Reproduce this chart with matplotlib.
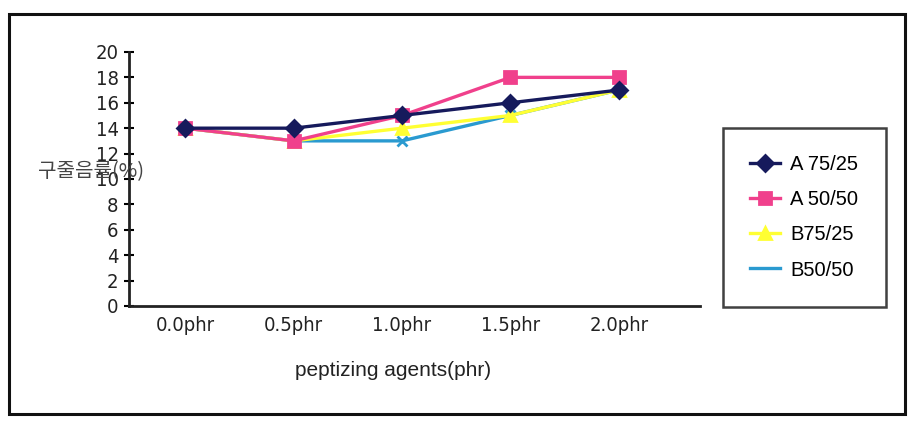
import matplotlib
matplotlib.use("Agg")
from matplotlib import pyplot as plt
from matplotlib import patches
import numpy as np

# data
categories = ["0.0phr", "0.5phr", "1.0phr", "1.5phr", "2.0phr"]
a_75_25 = [14, 14, 15, 16, 17]
a_50_50 = [14, 13, 15, 18, 18]
b_75_25 = [14, 13, 14, 15, 17]
b_50_50 = [14, 13, 13, 15, 17]
y_ticks = list(range(0, 21, 2))

KOREAN = ["Noto Sans CJK KR", "DejaVu Sans"]

fig = plt.figure(figsize=(9.15, 4.32), dpi=100)
ax = fig.add_axes([0.141, 0.2917, 0.624, 0.588])

x = np.arange(len(categories))
series = [
    ("B50/50", b_50_50, "#2a9ad0", "x", 7),
    ("B75/25", b_75_25, "#ffff33", "^", 8),
    ("A 50/50", a_50_50, "#f0408c", "s", 8),
    ("A 75/25", a_75_25, "#161a5c", "D", 8),
]
handles = {}
for name, vals, col, mk, ms in series:
    h, = ax.plot(x, vals, color=col, lw=2.4, marker=mk, ms=ms,
                 mec=col, mfc=col, mew=2, clip_on=False)
    handles[name] = h

ax.set_xlim(-0.52, 4.75)
ax.set_ylim(0, 20)
ax.set_xticks(x)
ax.set_xticklabels(categories, family="DejaVu Sans", stretch="condensed",
                   fontsize=14.5, color="#222222")
ax.set_yticks(y_ticks)
ax.set_yticklabels([str(v) for v in y_ticks], family="DejaVu Sans",
                   stretch="condensed", fontsize=14.5, color="#222222")
ax.tick_params(axis="x", length=0, pad=7)
ax.tick_params(axis="y", direction="inout", length=7, width=1.5, pad=4)
for s in ["top", "right"]:
    ax.spines[s].set_visible(False)
for s in ["left", "bottom"]:
    ax.spines[s].set_linewidth(2)
    ax.spines[s].set_color("#222222")

ax.set_xlabel("peptizing agents(phr)", family="Liberation Sans", fontsize=15,
              color="#222222")
ax.xaxis.set_label_coords((393 - 129) / 571, -0.215)

fig.text(91 / 915, 1 - 172 / 432, "구줄음률(%)", family=KOREAN, fontsize=14.5,
         ha="center", va="center", color="#444444")

# legend
order = ["A 75/25", "A 50/50", "B75/25", "B50/50"]
leg = fig.legend([handles[n] for n in order], order, loc="upper left",
                 bbox_to_anchor=(723 / 915, 1 - 128 / 432), frameon=True,
                 fancybox=False, edgecolor="#111111",
                 prop={"family": "Liberation Sans", "size": 14.5},
                 handlelength=1.5, handletextpad=0.5, labelspacing=0.8,
                 borderpad=1.35, borderaxespad=0)
leg.get_frame().set_linewidth(1.8)
leg.legend_handles[3].set_marker("None")

# outer frame
fig.patches.append(patches.Rectangle((9 / 915, 1 - 414 / 432), 896 / 915, 400 / 432,
                                     transform=fig.transFigure, fill=False,
                                     edgecolor="#111111", linewidth=2.2))

fig.savefig("out.png", dpi=100, facecolor="white")
